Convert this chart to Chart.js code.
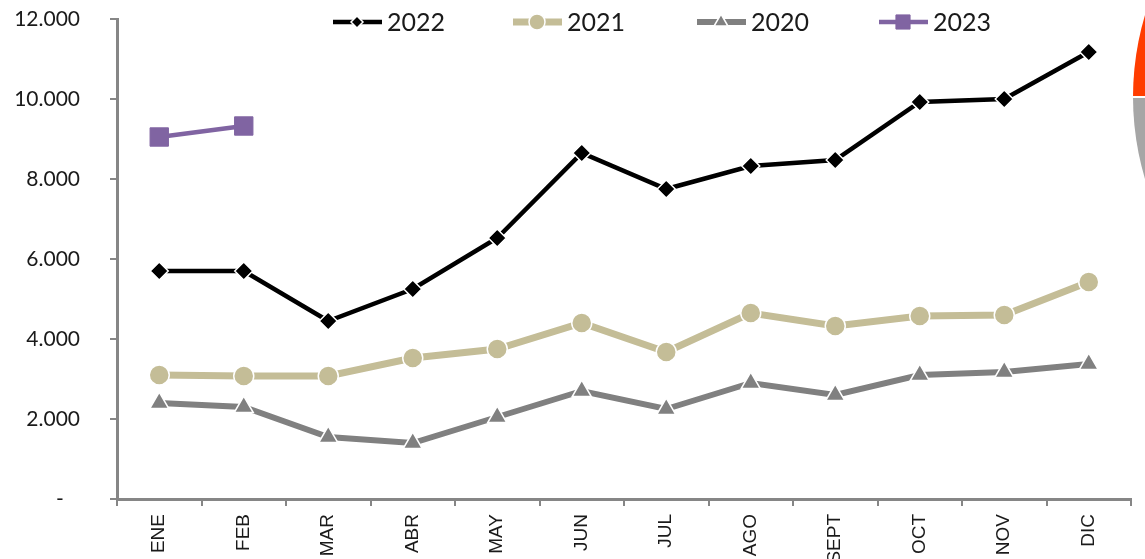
<!DOCTYPE html>
<html>
<head>
<meta charset="utf-8">
<script src="https://cdn.jsdelivr.net/npm/chart.js@4.4.0/dist/chart.umd.min.js"></script>
<style>
html, body { margin: 0; padding: 0; background: #fff; overflow: hidden; }
#wrap { position: relative; width: 1145px; height: 580px; }
</style>
</head>
<body>
<div id="wrap"><canvas id="c"></canvas></div>
<script>
// datos
const meses = ['ENE', 'FEB', 'MAR', 'ABR', 'MAY', 'JUN', 'JUL', 'AGO', 'SEPT', 'OCT', 'NOV', 'DIC'];
const serie2022 = [5700, 5700, 4450, 5250, 6525, 8650, 7750, 8325, 8475, 9925, 10000, 11175];
const serie2021 = [3100, 3075, 3075, 3525, 3750, 4400, 3675, 4650, 4325, 4575, 4600, 5425];
const serie2020 = [2400, 2300, 1550, 1400, 2050, 2700, 2250, 2900, 2600, 3100, 3175, 3375];
const serie2023 = [9050, 9325];
const yTicks = [0, 2000, 4000, 6000, 8000, 10000, 12000];

const gris = '#868686';

function fmt(v) {
    if (v === 0) return '-\u00a0\u00a0\u00a0';
    return String(v).replace(/\B(?=(\d{3})+(?!\d))/g, '.');
}

// leyenda dibujada a mano: linea + marcador + texto
const leyenda = {
    id: 'leyenda',
    afterDraw(chart) {
        const ctx = chart.ctx;
        const xs = [333, 513, 697, 879];
        const radios = [6, 8, 8, 10];
        const y = 22;
        chart.data.datasets.forEach((ds, i) => {
            const x = xs[i];
            ctx.save();
            ctx.strokeStyle = ds.borderColor;
            ctx.lineWidth = ds.borderWidth;
            ctx.beginPath();
            ctx.moveTo(x, y);
            ctx.lineTo(x + 49, y);
            ctx.stroke();
            ctx.fillStyle = ds.pointBackgroundColor;
            ctx.strokeStyle = ds.pointBorderColor;
            ctx.lineWidth = ds.pointBorderWidth;
            Chart.helpers.drawPoint(ctx, {
                pointStyle: ds.pointStyle,
                radius: radios[i],
                borderWidth: ds.pointBorderWidth,
                rotation: 0
            }, x + 24, y);
            ctx.fillStyle = '#1a1a1a';
            ctx.font = '25px Lato';
            ctx.textBaseline = 'middle';
            ctx.textAlign = 'left';
            ctx.fillText(ds.label, x + 54, y + 1);
            ctx.restore();
        });
        // trozo de logo cortado en el borde derecho
        ctx.save();
        ctx.beginPath();
        ctx.arc(1419, 97, 286, Math.PI, Math.PI * 1.5);
        ctx.lineTo(1419, 97);
        ctx.closePath();
        ctx.fillStyle = '#ff3d00';
        ctx.fill();
        ctx.beginPath();
        ctx.arc(1419, 97, 286, Math.PI * 0.5, Math.PI);
        ctx.lineTo(1419, 97);
        ctx.closePath();
        ctx.fillStyle = '#a6a6a6';
        ctx.fill();
        ctx.beginPath();
        ctx.arc(1419, 97, 288, Math.PI * 0.5, Math.PI * 1.5);
        ctx.strokeStyle = '#ffffff';
        ctx.lineWidth = 2;
        ctx.stroke();
        ctx.beginPath();
        ctx.moveTo(1130, 97);
        ctx.lineTo(1145, 97);
        ctx.stroke();
        ctx.restore();
    }
};

function serie(label, data, color, width, style, radio, borde, bordeColor) {
    return {
        label: label,
        data: data,
        borderColor: color,
        borderWidth: width,
        backgroundColor: color,
        pointStyle: style,
        pointRadius: radio,
        pointHoverRadius: radio,
        pointBackgroundColor: color,
        pointBorderColor: bordeColor,
        pointBorderWidth: borde,
        tension: 0,
        fill: false
    };
}

new Chart(document.getElementById('c'), {
    type: 'line',
    data: {
        labels: meses,
        datasets: [
            serie('2022', serie2022, '#000000', 4.5, 'rectRot', 9, 1.5, '#ffffff'),
            serie('2021', serie2021, '#c4bd97', 7, 'circle', 10, 1.5, '#ffffff'),
            serie('2020', serie2020, '#808080', 6, 'triangle', 11, 1.5, '#ffffff'),
            serie('2023', serie2023, '#8064a2', 4.5, 'rect', 13, 1, '#8064a2')
        ]
    },
    options: {
        responsive: true,
        maintainAspectRatio: false,
        animation: false,
        layout: { padding: { top: 19, right: 2, left: 0, bottom: 0 } },
        plugins: {
            legend: { display: false },
            tooltip: { enabled: false }
        },
        scales: {
            x: {
                offset: true,
                border: { color: gris, width: 3 },
                grid: { drawOnChartArea: false, color: gris, lineWidth: 2, tickLength: 7, offset: true },
                ticks: {
                    minRotation: 90,
                    maxRotation: 90,
                    padding: 8,
                    color: '#1a1a1a',
                    font: { family: 'Liberation Sans', size: 19 }
                },
                afterFit(scale) { scale.height = 81; }
            },
            y: {
                min: 0,
                max: 12000,
                afterBuildTicks(scale) { scale.ticks = yTicks.map(v => ({ value: v })); },
                border: { color: gris, width: 3 },
                grid: { drawOnChartArea: false, color: gris, lineWidth: 2, tickLength: 7 },
                ticks: {
                    padding: 30,
                    color: '#1a1a1a',
                    font: { family: 'Lato', size: 21 },
                    callback: v => fmt(v)
                },
                afterFit(scale) {
                    scale.width = 117;
                    scale.paddingTop = 0;
                    scale.paddingBottom = 0;
                }
            }
        }
    },
    plugins: [leyenda]
});
</script>
</body>
</html>
